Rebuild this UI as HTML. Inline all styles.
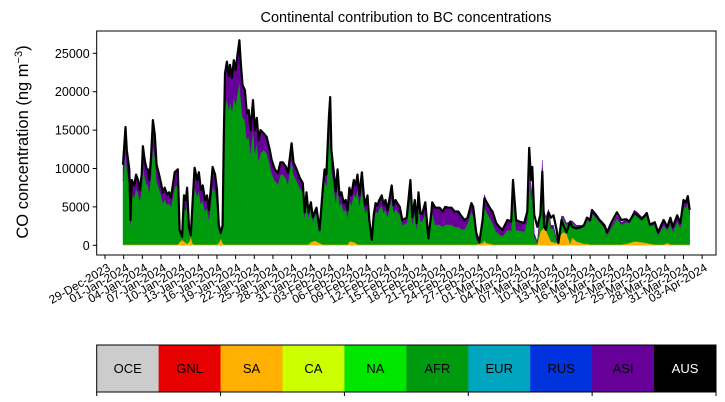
<!DOCTYPE html>
<html><head><meta charset="utf-8"><style>
html,body{margin:0;padding:0;background:#fff;}
svg{display:block;font-family:"Liberation Sans","DejaVu Sans",sans-serif;}
</style></head><body>
<svg id="chart" width="725" height="402" viewBox="0 0 725 402">
<text x="406" y="22" text-anchor="middle" font-size="14.5">Continental contribution to BC concentrations</text>
<text transform="translate(28,142) rotate(-90)" text-anchor="middle" font-size="16.5">CO concentration (ng m<tspan dy="-6" font-size="11">−3</tspan><tspan dy="6">)</tspan></text>
<g id="plot"></g>
<g id="legend"></g>
</svg>
<script>
const days=[2.9,3.3,3.5,3.9,4.1,4.3,4.7,5.0,5.3,5.6,5.9,6.1,6.4,6.7,6.9,7.1,7.4,7.7,8.0,8.3,8.7,9.0,9.3,9.6,10.0,10.3,10.6,10.9,11.2,11.7,12.0,12.4,12.7,13.0,13.2,13.5,13.8,14.1,14.4,14.8,15.1,15.4,15.7,16.1,16.4,16.7,17.0,17.3,17.7,18.0,18.3,18.6,18.9,19.1,19.3,19.6,19.9,20.1,20.4,20.7,21.0,21.3,21.6,21.8,22.1,22.5,22.8,23.1,23.4,23.8,24.1,24.4,24.7,25.0,25.5,26.0,26.5,26.8,27.3,27.8,28.2,28.6,29.1,29.4,30.0,30.3,30.8,31.3,31.8,32.1,32.4,32.7,33.1,33.4,33.7,34.0,34.5,35.0,35.3,35.6,36.0,36.2,36.4,36.8,37.1,37.4,37.7,38.0,38.4,38.7,39.0,39.3,39.6,40.0,40.3,40.6,40.9,41.3,41.6,41.9,42.2,42.5,42.9,43.2,43.5,43.8,44.1,44.5,44.8,45.1,45.4,45.7,46.1,46.4,46.7,47.0,47.4,47.8,48.5,49.1,49.4,49.8,50.1,50.4,50.7,51.0,51.5,52.0,52.5,52.6,53.1,53.8,54.3,54.7,55.2,55.7,56.2,56.8,57.3,57.8,58.3,58.9,59.2,59.7,60.2,60.7,61.0,61.3,62.0,62.3,62.9,63.4,63.9,64.7,65.3,65.6,66.1,66.6,67.4,67.9,68.2,68.5,68.7,69.0,69.5,70.0,70.3,70.6,70.9,71.3,71.7,72.1,72.6,72.9,73.4,73.7,74.2,74.8,75.1,75.8,76.6,77.0,77.5,78.0,78.3,79.0,79.4,80.3,80.7,81.5,82.3,83.0,83.8,84.3,85.1,85.6,86.3,87.1,87.6,88.4,88.9,89.8,90.4,90.9,91.3,92.0,92.5,93.0,93.4,93.7,94.0];
const total=[10500,15400,12400,9900,3300,8500,7800,9200,8500,7200,9200,12900,11000,9900,9900,8500,11400,16300,14400,10500,9200,8100,6900,7500,6600,6900,6200,7800,9500,9900,2000,1100,6500,5900,7500,2300,1300,5900,10100,8500,9500,7200,7800,5900,6500,4600,7200,10200,9200,7200,2600,1600,2600,14000,22400,23900,22000,23500,21800,24100,22800,24800,26700,24100,20900,20200,17200,17600,15000,18900,15000,16600,13700,15000,14600,14100,12400,11100,9900,9400,10800,10800,10200,9400,13300,10800,9900,8800,8100,4300,6900,4300,5600,3700,4300,4900,2000,7200,9900,9200,16700,19300,12400,9400,7000,9900,6500,6900,5500,5900,4600,7500,6500,8500,7800,9200,6500,9500,6500,5200,6500,3300,700,3900,5500,5200,5900,6500,5200,5900,4600,5900,7800,5200,5900,5500,5000,3300,3600,8500,3700,5900,2900,6900,4200,4100,5600,900,4600,5600,4900,4900,4400,5000,4900,4900,4400,4400,3800,3300,3600,5500,5000,1600,400,3300,6100,5700,4700,4400,2900,2400,2000,3300,3100,8500,3300,3100,2900,4400,12700,8500,10200,4000,2400,4000,9600,2400,2000,4300,3600,3900,2000,300,3300,2600,1700,3100,2400,2200,2400,2600,3600,3300,4600,3900,3400,2600,1700,3100,4300,3300,3400,3100,4200,3900,3400,4200,2700,3000,1700,3300,2400,3600,2400,3900,2900,5900,5600,6400,4600];
const asi=[2100,3000,2500,2000,600,1700,1600,1800,1700,1400,1800,2600,2200,2000,2000,1700,2300,3300,2900,2100,1800,1600,1400,1500,1300,1400,1200,1600,1900,2000,300,100,1600,1500,1900,500,100,1500,2500,2100,2400,1800,2000,1500,1600,1200,1800,2500,2300,1800,500,200,400,2800,4500,4800,4400,4700,4400,4800,4600,5000,5300,4800,4200,4000,3400,3500,3000,3800,3000,3300,2700,3000,2200,2100,1900,1700,1500,1400,1600,1600,1500,1400,2000,1600,1500,1300,1200,600,1000,600,800,500,600,700,300,1100,1500,1400,2500,2900,2500,1900,1400,2000,1300,1400,1100,1200,900,1500,1300,1700,1600,1800,1300,1900,1300,1000,1300,700,100,800,1100,1000,1200,1300,1000,1200,900,1200,1600,1000,1200,1100,1000,700,700,2100,900,1500,700,1700,1000,1000,1400,200,1200,1400,2200,2200,2000,2300,2200,2200,2000,2000,1700,1200,800,1000,1000,300,100,700,1500,1500,1400,1500,1100,1000,800,1300,1200,1500,1300,1200,1100,1000,1300,900,1000,400,200,400,1000,200,200,400,400,400,200,0,300,300,200,300,200,200,200,300,400,300,500,400,300,300,200,300,400,300,300,300,400,400,300,400,300,300,400,700,600,800,600,800,600,700,600,700,500];
const sa=[100,100,100,100,100,100,100,100,100,100,100,100,100,100,100,100,100,100,100,100,100,100,100,100,100,100,100,100,100,100,400,700,500,300,200,400,1100,200,100,100,100,100,100,100,100,100,100,100,100,100,300,900,300,100,100,100,100,100,100,100,100,100,100,100,100,100,100,100,100,100,100,100,100,100,100,100,100,100,100,100,100,100,100,100,100,100,100,100,100,100,100,100,400,500,600,500,300,100,100,100,100,100,100,100,100,100,100,100,100,100,100,500,500,400,300,100,100,100,100,100,100,100,100,100,100,100,100,100,100,100,100,100,100,100,100,100,100,100,100,100,100,100,100,100,100,100,100,100,100,100,100,100,100,100,100,100,100,100,100,100,100,100,100,100,200,300,600,300,200,100,100,100,100,100,100,100,100,100,100,100,100,100,100,100,100,1800,2000,2500,2000,1200,500,400,300,800,1500,1700,1500,200,1000,500,300,200,200,100,100,100,100,100,100,100,100,100,200,300,500,500,400,300,200,100,100,100,300,100,100,100,100,100,100,100,100,100,300,200,200,200];
const afr=[8300,12300,9800,7800,2600,6700,6100,7300,6700,5700,7300,10200,8700,7800,7800,6700,9000,12900,11400,8300,7300,6400,5400,5900,5200,5400,4900,6100,7500,7800,1300,300,4400,4100,5400,1400,100,4200,7500,6300,7000,5300,5700,4300,4800,3300,5300,7600,6800,5300,1800,500,1900,11100,17800,19000,17500,18700,17300,19200,18100,19700,21300,19200,16600,16100,13700,14000,11900,15000,11900,13200,10900,11900,12300,11900,10400,9300,8300,7900,9100,9100,8600,7900,11200,9100,8300,7400,6800,3600,5800,3600,4400,2700,3100,3700,1400,6000,8300,7700,14100,16300,9800,7400,5500,7800,5100,5400,4300,4600,3600,5500,4700,6400,5900,7300,5100,7500,5100,4100,5100,2500,500,3000,4300,4100,4600,5100,4100,4600,3600,4600,6100,4100,4600,4300,3900,2500,2800,6300,2700,4300,2100,5100,3100,3000,4100,600,3300,4100,2600,2600,2300,2600,2600,2600,2300,2300,2000,2000,2700,4300,3700,700,0,2400,4500,4100,3200,2800,1700,1300,1100,1900,1800,6900,1900,1800,1700,3300,11300,5800,7200,1100,200,2400,8100,1800,1500,3100,1700,1800,300,100,2000,1800,1200,2600,2000,1900,2100,2200,3100,2900,4000,3400,3000,2100,1200,2300,3400,2600,2800,2600,3700,3400,3000,3500,2300,2600,1200,2500,1700,2700,1700,3000,2200,4900,4800,5500,3900];
const yTicks=[0,5000,10000,15000,20000,25000];
const legendNames=["OCE","GNL","SA","CA","NA","AFR","EUR","RUS","ASI","AUS"];
const legendColors=["#cccccc","#e60000","#ffb000","#ccff00","#00e600","#009a0f","#00a6bf","#0033dd","#660099","#000000"];
const NS="http://www.w3.org/2000/svg";
const L=96.7,R=716,T=31,B=255;
function xS(d){return 105+d*6.22;}
function yS(v){return 245.3-v/5000*38.4;}
const plot=document.getElementById('plot');
function mk(tag,attrs,parent){const e=document.createElementNS(NS,tag);for(const k in attrs)e.setAttribute(k,attrs[k]);(parent||plot).appendChild(e);return e;}
const layers=[["sa",sa,"#ffb000"],["afr",afr,"#009a0f"],["asi",asi,"#660099"]];
let base=days.map(()=>0);
layers.forEach(([nm,arr,col])=>{
  const top=base.map((b,i)=>b+arr[i]);
  let d="M"+days.map((t,i)=>xS(t).toFixed(1)+","+yS(top[i]).toFixed(1)).join("L");
  for(let i=days.length-1;i>=0;i--)d+="L"+xS(days[i]).toFixed(1)+","+yS(base[i]).toFixed(1);
  d+="Z";
  const p=mk('path',{d:d,fill:col,stroke:col,'stroke-width':0.4});
  
  
  base=top;
});
const tl=mk('path',{d:"M"+days.map((t,i)=>xS(t).toFixed(1)+","+yS(total[i]).toFixed(1)).join("L"),fill:"none",stroke:"#000","stroke-width":2.2,"stroke-linejoin":"round"});


const fr=mk('rect',{x:L,y:T,width:R-L,height:B-T,fill:"none",stroke:"#000","stroke-width":1});


yTicks.forEach(v=>{
  const y=yS(v);
  const tk=mk('line',{x1:L-4,x2:L,y1:y,y2:y,stroke:"#000","stroke-width":1});
  
  
  const tx=mk('text',{x:L-7,y:y+4.5,"text-anchor":"end","font-size":12.5});
  tx.textContent=v;
  
  
});
const mon=["Jan","Feb","Mar","Apr","May","Jun","Jul","Aug","Sep","Oct","Nov","Dec"];
const start=Date.UTC(2023,11,29);
for(let k=0;k<33;k++){
  const dd=k*3;const x=xS(dd);
  const dt=new Date(start+dd*86400000);
  const lab=String(dt.getUTCDate()).padStart(2,"0")+"-"+mon[dt.getUTCMonth()]+"-"+dt.getUTCFullYear();
  const tk=mk('line',{x1:x,x2:x,y1:B,y2:B+4,stroke:"#000","stroke-width":1});
  
  
  const tx=mk('text',{transform:"translate("+(x+6)+","+(B+15)+") rotate(-30)","text-anchor":"end","font-size":11.8});
  tx.textContent=lab;
  
  
}
const lg=document.getElementById('legend');
const lw=(R-L)/legendNames.length;
legendNames.forEach((n,i)=>{
  const r=mk('rect',{x:L+i*lw,y:345,width:lw+0.5,height:47,fill:legendColors[i]},lg);
  
  
  const t=mk('text',{x:L+i*lw+lw/2,y:373,"text-anchor":"middle","font-size":13,fill:n==="AUS"?"#fff":"#000"},lg);
  t.textContent=n;
  
  
});
const lf=mk('rect',{x:L,y:345,width:R-L,height:47,fill:"none",stroke:"#000","stroke-width":1},lg);


for(let k=0;k<=5;k++){
  const x=L+k*2*lw;
  const t=mk('line',{x1:x,x2:x,y1:392,y2:396,stroke:"#000","stroke-width":1},lg);
  
  
}
</script>
</body></html>
